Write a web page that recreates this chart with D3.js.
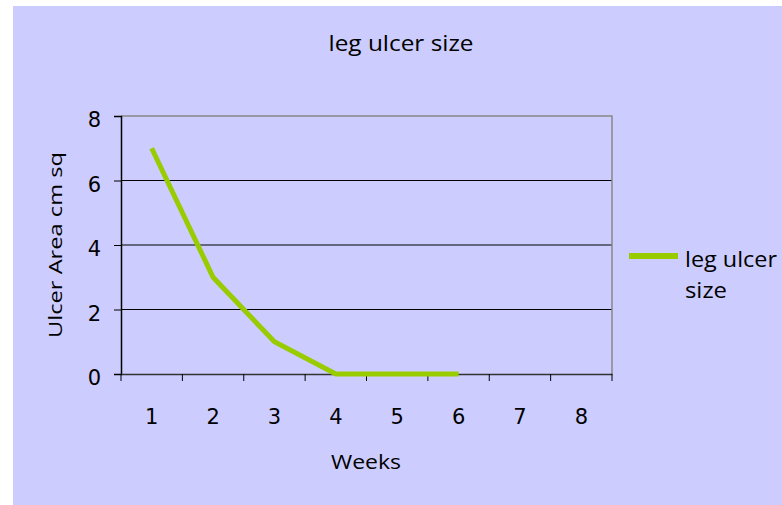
<!DOCTYPE html>
<html>
<head>
<meta charset="utf-8">
<script src="https://cdn.jsdelivr.net/npm/d3@7"></script>
<style>
  body { margin: 0; background: #fff; }
  text { font-family: "DejaVu Sans", sans-serif; fill: #000; }
</style>
</head>
<body>
<svg id="chart" width="782" height="505"></svg>
<script>
// data
var weeks = ["1", "2", "3", "4", "5", "6", "7", "8"];
var ulcerArea = [7, 3, 1, 0, 0, 0];
var yTicks = [0, 2, 4, 6, 8];
var seriesName = "leg ulcer size";

var svg = d3.select("#chart");
var margin = {top: 116, right: 170, bottom: 131, left: 121};
var width = 782 - margin.left - margin.right;
var height = 505 - margin.top - margin.bottom;

// lavender chart background
svg.append("rect")
  .attr("x", 13).attr("y", 6)
  .attr("width", 782).attr("height", 505)
  .attr("fill", "#ccccff");

svg.append("text")
  .attr("x", 401).attr("y", 51)
  .attr("text-anchor", "middle")
  .attr("textLength", 145).attr("lengthAdjust", "spacingAndGlyphs")
  .style("font-family", "'Open Sans', sans-serif")
  .style("font-size", "22px")
  .text(seriesName);

var g = svg.append("g").attr("transform", "translate(" + margin.left + "," + margin.top + ")");

var x = d3.scaleBand().domain(weeks).range([0, width]);
var y = d3.scaleLinear().domain([0, 8]).range([height, 0]);

// gridlines
g.selectAll(".grid").data(yTicks.filter(function(d) { return d > 0 && d < 8; }))
  .enter().append("line")
  .attr("x1", 0).attr("x2", width)
  .attr("y1", function(d) { return y(d); })
  .attr("y2", function(d) { return y(d); })
  .attr("stroke", "#000").attr("stroke-width", 1);

// top and right border
g.append("path")
  .attr("d", "M0," + y(8) + "H" + width + "V" + height)
  .attr("fill", "none").attr("stroke", "#888").attr("stroke-width", 1.5);

var yAxis = d3.axisLeft(y).tickValues(yTicks).tickSize(7).tickPadding(13);
var yg = g.append("g").call(yAxis);
yg.select(".domain").attr("stroke", "#000").attr("stroke-width", 1.5);
yg.selectAll("text").attr("dy", "0.5em").style("font-size", "21px");

var xAxis = d3.axisBottom(x).tickSize(0).tickPadding(35);
var xg = g.append("g").attr("transform", "translate(0," + height + ")").call(xAxis);
xg.select(".domain").attr("stroke", "#333").attr("stroke-width", 1.5);
xg.selectAll("text").style("font-size", "21px");

// category boundary ticks
xg.selectAll(".bound").data(weeks.concat(["end"]))
  .enter().append("line")
  .attr("x1", function(d, i) { return i * x.bandwidth(); })
  .attr("x2", function(d, i) { return i * x.bandwidth(); })
  .attr("y1", 0).attr("y2", 7)
  .attr("stroke", "#000").attr("stroke-width", 1);

var line = d3.line()
  .x(function(d, i) { return x(weeks[i]) + x.bandwidth() / 2; })
  .y(function(d) { return y(d); });

g.append("path")
  .datum(ulcerArea)
  .attr("fill", "none")
  .attr("stroke", "#99cc00")
  .attr("stroke-width", 5)
  .attr("d", line);

svg.append("text")
  .attr("transform", "translate(62," + 245 + ") rotate(-90)")
  .attr("text-anchor", "middle")
  .attr("textLength", 186).attr("lengthAdjust", "spacingAndGlyphs")
  .style("font-family", "'Open Sans', sans-serif")
  .style("font-size", "19px")
  .text("Ulcer Area cm sq");

svg.append("text")
  .attr("x", 366).attr("y", 469)
  .attr("text-anchor", "middle")
  .attr("textLength", 70).attr("lengthAdjust", "spacingAndGlyphs")
  .style("font-family", "'Open Sans', sans-serif")
  .style("font-size", "20px")
  .text("Weeks");

// legend
var legend = svg.append("g").attr("transform", "translate(629,256)");
legend.append("line")
  .attr("x1", 0).attr("x2", 49).attr("y1", 0).attr("y2", 0)
  .attr("stroke", "#99cc00").attr("stroke-width", 6);
legend.append("text").attr("x", 56).attr("y", 11)
  .attr("textLength", 92).attr("lengthAdjust", "spacingAndGlyphs")
  .style("font-family", "'Open Sans', sans-serif")
  .style("font-size", "21px").text("leg ulcer");
legend.append("text").attr("x", 56).attr("y", 42)
  .attr("textLength", 42).attr("lengthAdjust", "spacingAndGlyphs")
  .style("font-family", "'Open Sans', sans-serif")
  .style("font-size", "21px").text("size");
</script>
</body>
</html>
